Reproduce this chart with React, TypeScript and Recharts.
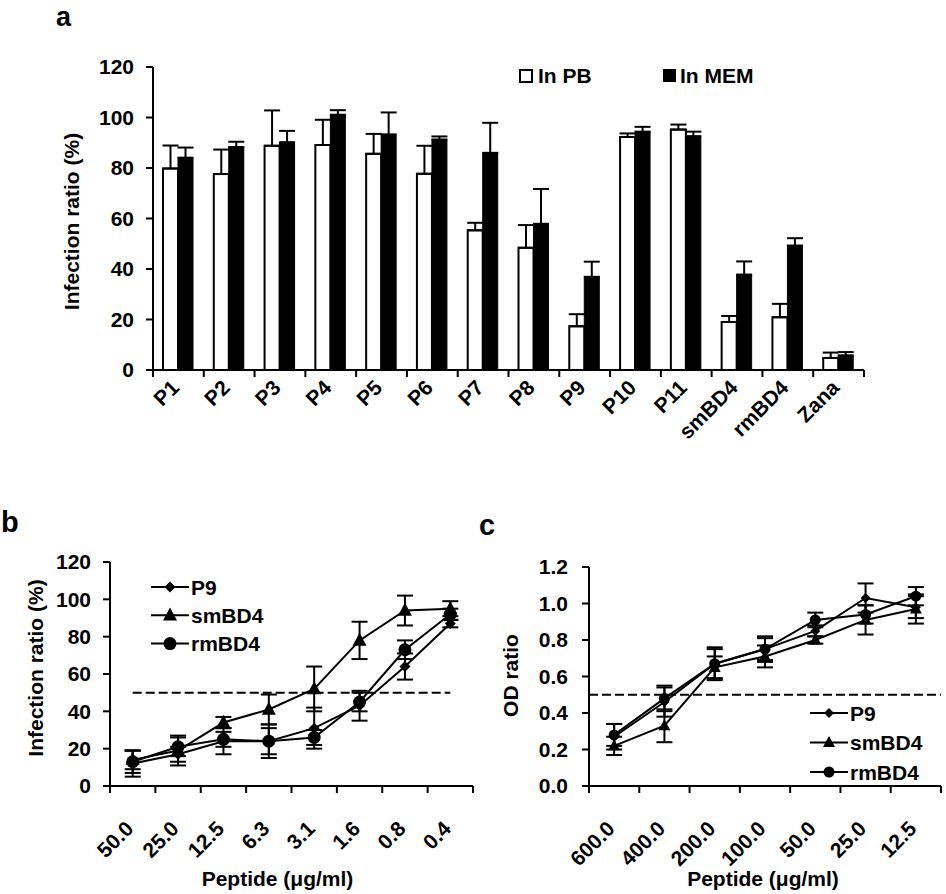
import React from "react";
import {
  Bar,
  BarChart,
  ErrorBar,
  Label,
  Legend,
  Line,
  LineChart,
  ReferenceLine,
  XAxis,
  YAxis,
} from "recharts";

const FONT = '"Liberation Sans", Arial, sans-serif';

// panel a: infection ratio per peptide, in PB vs in MEM
const peptides = ["P1", "P2", "P3", "P4", "P5", "P6", "P7", "P8", "P9", "P10", "P11", "smBD4", "rmBD4", "Zana"];
const pbMeans = [79.8, 77.6, 88.8, 89.1, 85.6, 77.7, 55.3, 48.4, 17.3, 92.3, 95.2, 19.0, 20.9, 4.8];
const pbErrors = [9.1, 9.7, 14.0, 10.0, 7.9, 11.1, 3.0, 9.0, 4.8, 1.4, 2.0, 2.4, 5.3, 2.1];
const memMeans = [84.1, 88.3, 90.2, 101.1, 93.3, 91.3, 86.0, 57.9, 36.9, 94.4, 92.6, 37.8, 49.3, 5.8];
const memErrors = [4.0, 2.1, 4.5, 1.8, 8.7, 1.2, 11.9, 13.8, 6.0, 1.9, 1.8, 5.2, 2.9, 1.3];
const ticksA = [0, 20, 40, 60, 80, 100, 120];

// panel b: infection ratio vs peptide dose
const dosesB = ["50.0", "25.0", "12.5", "6.3", "3.1", "1.6", "0.8", "0.4"];
const p9B = [12, 17, 24, 24, 31, 43, 64, 87];
const p9BErr = [7, 4, 7, 9, 11, 8, 7, 2];
const smB = [14, 19, 34, 41, 52, 78, 94, 95];
const smBErr = [5, 8, 3, 8, 12, 10, 8, 4];
const rmB = [13, 21, 25, 24, 26, 45, 73, 92];
const rmBErr = [6, 5, 4, 7, 4, 5, 5, 3];
const ticksB = [0, 20, 40, 60, 80, 100, 120];

// panel c: OD ratio vs peptide dose
const dosesC = ["600.0", "400.0", "200.0", "100.0", "50.0", "25.0", "12.5"];
const p9C = [0.27, 0.46, 0.67, 0.75, 0.85, 1.03, 0.98];
const p9CErr = [0.07, 0.08, 0.08, 0.06, 0.03, 0.08, 0.06];
const smC = [0.22, 0.33, 0.65, 0.71, 0.8, 0.91, 0.97];
const smCErr = [0.05, 0.09, 0.06, 0.06, 0.02, 0.08, 0.08];
const rmC = [0.28, 0.48, 0.67, 0.75, 0.91, 0.94, 1.04];
const rmCErr = [0.06, 0.07, 0.09, 0.07, 0.04, 0.05, 0.05];
const ticksC = [0, 0.2, 0.4, 0.6, 0.8, 1.0, 1.2];

const barData = peptides.map((name, i) => ({
  name,
  pb: pbMeans[i],
  pbErr: [0, pbErrors[i]],
  mem: memMeans[i],
  memErr: [0, memErrors[i]],
}));

const doseData = (doses: string[], p9: number[], p9e: number[], sm: number[], sme: number[], rm: number[], rme: number[]) =>
  doses.map((dose, i) => ({
    dose,
    p9: p9[i],
    p9Err: p9e[i],
    sm: sm[i],
    smErr: sme[i],
    rm: rm[i],
    rmErr: rme[i],
  }));

const dataB = doseData(dosesB, p9B, p9BErr, smB, smBErr, rmB, rmBErr);
const dataC = doseData(dosesC, p9C, p9CErr, smC, smCErr, rmC, rmCErr);

const axisStroke = { stroke: "#000", strokeWidth: 2 };
const tickFont = { fontFamily: FONT, fontWeight: 700, fontSize: 21, fill: "#000" };

type Shape = "diamond" | "triangle" | "circle";

function Marker({ cx, cy, shape, size }: { cx: number; cy: number; shape: Shape; size: number }) {
  if (cx == null || cy == null) return null;
  const s = size;
  if (shape === "diamond") {
    return <polygon points={`${cx},${cy - s} ${cx + s},${cy} ${cx},${cy + s} ${cx - s},${cy}`} fill="#000" />;
  }
  if (shape === "triangle") {
    return <polygon points={`${cx},${cy - s * 1.1} ${cx + s},${cy + s * 0.75} ${cx - s},${cy + s * 0.75}`} fill="#000" />;
  }
  return <circle cx={cx} cy={cy} r={s} fill="#000" />;
}

const dotRenderer = (shape: Shape, size: number) => (p: any) =>
  <Marker key={`${shape}-${p.index}`} cx={p.cx} cy={p.cy} shape={shape} size={size} />;

// category tick: rotated label at the band centre, tick marks on the band edges (excel style)
const CategoryTick = (dx: number, dy: number, count: number) => (props: any) => {
  const { x, y, payload, index, width } = props;
  const n = props.visibleTicksCount || count;
  const band = width / n;
  const tx = x + dx;
  const ty = y + dy;
  return (
    <g>
      <line x1={x - band / 2} x2={x - band / 2} y1={y} y2={y + 7} stroke="#000" strokeWidth={2} />
      {index === n - 1 && <line x1={x + band / 2} x2={x + band / 2} y1={y} y2={y + 7} stroke="#000" strokeWidth={2} />}
      <text x={tx} y={ty} transform={`rotate(-45 ${tx} ${ty})`} textAnchor="end" style={tickFont}>
        {payload.value}
      </text>
    </g>
  );
};

const axisTitle = (text: string, dx: number, dy: number, angle = 0, size = 21) => (props: any) => {
  const vb = props.viewBox || { x: 0, y: 0, width: 0, height: 0 };
  const cx = vb.x + vb.width / 2 + dx;
  const cy = vb.y + vb.height / 2 + dy;
  return (
    <text
      x={cx}
      y={cy}
      transform={angle ? `rotate(${angle} ${cx} ${cy})` : undefined}
      textAnchor="middle"
      dominantBaseline="central"
      style={{ fontFamily: FONT, fontWeight: 700, fontSize: size, fill: "#000" }}
    >
      {text}
    </text>
  );
};

function BarLegend() {
  return (
    <svg width={260} height={30} style={{ display: "block" }}>
      <rect x={6} y={10} width={12} height={12} fill="#fff" stroke="#000" strokeWidth={2} />
      <text x={24} y={23} style={tickFont}>In PB</text>
      <rect x={149} y={9} width={13} height={13} fill="#000" />
      <text x={166} y={23} style={tickFont}>In MEM</text>
    </svg>
  );
}

const seriesLegend = [
  { label: "P9", shape: "diamond" as Shape },
  { label: "smBD4", shape: "triangle" as Shape },
  { label: "rmBD4", shape: "circle" as Shape },
];

function LineLegend({ rowGap, sizes }: { rowGap: number; sizes: number[] }) {
  return (
    <svg width={140} height={rowGap * 3 + 6} style={{ display: "block" }}>
      {seriesLegend.map((s, i) => {
        const cy = 15 + i * rowGap;
        return (
          <g key={s.label}>
            <line x1={6} x2={44} y1={cy} y2={cy} stroke="#000" strokeWidth={2} />
            <Marker cx={25} cy={cy} shape={s.shape} size={sizes[i]} />
            <text x={46} y={cy + 7.5} style={tickFont}>{s.label}</text>
          </g>
        );
      })}
    </svg>
  );
}

function PanelA() {
  return (
    <BarChart
      width={946}
      height={460}
      data={barData}
      margin={{ top: 67, right: 82, bottom: 30, left: 93 }}
      barGap={0}
    >
      <XAxis
        dataKey="name"
        interval={0}
        height={60}
        axisLine={axisStroke}
        tickLine={false}
        tickSize={0}
        tickMargin={0}
        tick={CategoryTick(2, 19, peptides.length)}
      />
      <YAxis
        domain={[0, 120]}
        ticks={ticksA}
        width={60}
        axisLine={axisStroke}
        tickLine={axisStroke}
        tickSize={7}
        tickMargin={12}
        tick={tickFont}
      >
        <Label content={axisTitle("Infection ratio (%)", -52, 3, -90)} />
      </YAxis>
      <Legend
        layout="horizontal"
        verticalAlign="middle"
        align="center"
        wrapperStyle={{ position: "absolute", top: 60, left: 514, width: 260 }}
        content={() => <BarLegend />}
      />
      <Bar dataKey="pb" barSize={15} fill="#fff" stroke="#000" strokeWidth={2} isAnimationActive={false}>
        <ErrorBar dataKey="pbErr" width={8} stroke="#000" strokeWidth={2} />
      </Bar>
      <Bar dataKey="mem" barSize={15} fill="#000" stroke="#000" strokeWidth={1} isAnimationActive={false}>
        <ErrorBar dataKey="memErr" width={8} stroke="#000" strokeWidth={2} />
      </Bar>
    </BarChart>
  );
}

function DoseLines({ sizes }: { sizes: number[] }) {
  return (
    <>
      <Line dataKey="p9" stroke="#000" strokeWidth={2} dot={dotRenderer("diamond", sizes[0])} activeDot={false} isAnimationActive={false}>
        <ErrorBar dataKey="p9Err" width={8} stroke="#000" strokeWidth={2} />
      </Line>
      <Line dataKey="sm" stroke="#000" strokeWidth={2} dot={dotRenderer("triangle", sizes[1])} activeDot={false} isAnimationActive={false}>
        <ErrorBar dataKey="smErr" width={8} stroke="#000" strokeWidth={2} />
      </Line>
      <Line dataKey="rm" stroke="#000" strokeWidth={2} dot={dotRenderer("circle", sizes[2])} activeDot={false} isAnimationActive={false}>
        <ErrorBar dataKey="rmErr" width={8} stroke="#000" strokeWidth={2} />
      </Line>
    </>
  );
}

const sizesB = [5.5, 7, 6.5];
const sizesC = [5, 6, 5.5];

function PanelB() {
  return (
    <LineChart width={480} height={414} data={dataB} margin={{ top: 82, right: 7, bottom: 0, left: 40 }}>
      <XAxis
        dataKey="dose"
        scale="band"
        interval={0}
        height={108}
        axisLine={axisStroke}
        tickLine={false}
        tickSize={0}
        tickMargin={0}
        tick={CategoryTick(2, 44, dosesB.length)}
      >
        <Label content={axisTitle("Peptide (μg/ml)", -14, 38)} />
      </XAxis>
      <YAxis
        domain={[0, 120]}
        ticks={ticksB}
        width={70}
        axisLine={axisStroke}
        tickLine={axisStroke}
        tickSize={7}
        tickMargin={12}
        tick={tickFont}
      >
        <Label content={axisTitle("Infection ratio (%)", -40, -6, -90)} />
      </YAxis>
      <ReferenceLine
        segment={[{ x: dosesB[0], y: 50 }, { x: dosesB[dosesB.length - 1], y: 50 }]}
        stroke="#000"
        strokeWidth={2}
        strokeDasharray="9 4"
      />
      <Legend
        layout="horizontal"
        verticalAlign="middle"
        align="center"
        wrapperStyle={{ position: "absolute", top: 92, left: 145, width: 140 }}
        content={() => <LineLegend rowGap={28.3} sizes={sizesB} />}
      />
      {DoseLines({ sizes: sizesB })}
    </LineChart>
  );
}

function PanelC() {
  return (
    <LineChart width={473} height={414} data={dataC} margin={{ top: 87, right: 5, bottom: 0, left: 46 }}>
      <XAxis
        dataKey="dose"
        scale="band"
        interval={0}
        height={108}
        axisLine={axisStroke}
        tickLine={false}
        tickSize={0}
        tickMargin={0}
        tick={CategoryTick(2, 44, dosesC.length)}
      >
        <Label content={axisTitle("Peptide (μg/ml)", -2, 38)} />
      </XAxis>
      <YAxis
        domain={[0, 1.2]}
        ticks={ticksC}
        width={70}
        axisLine={axisStroke}
        tickLine={axisStroke}
        tickSize={7}
        tickMargin={14}
        tick={tickFont}
        tickFormatter={(v: number) => v.toFixed(1)}
      >
        <Label content={axisTitle("OD ratio", -44, -1, -90)} />
      </YAxis>
      <ReferenceLine y={0.5} stroke="#000" strokeWidth={2} strokeDasharray="9 4" />
      <Legend
        layout="horizontal"
        verticalAlign="middle"
        align="center"
        wrapperStyle={{ position: "absolute", top: 218, left: 331, width: 140 }}
        content={() => <LineLegend rowGap={29.5} sizes={sizesC} />}
      />
      {DoseLines({ sizes: sizesC })}
    </LineChart>
  );
}

export default function App() {
  const letter = { fontFamily: FONT, fontWeight: 700, fontSize: 27, fill: "#000" };
  return (
    <div style={{ position: "absolute", left: 0, top: 0, width: 946, height: 894, background: "#fff" }}>
      <div style={{ position: "absolute", left: 0, top: 0 }}>
        <PanelA />
      </div>
      <div style={{ position: "absolute", left: 0, top: 480 }}>
        <PanelB />
      </div>
      <div style={{ position: "absolute", left: 473, top: 480 }}>
        <PanelC />
      </div>
      <svg width={946} height={894} style={{ position: "absolute", left: 0, top: 0, pointerEvents: "none" }}>
        <text x={56} y={26} style={letter}>a</text>
        <text x={1} y={532} style={{ ...letter, fontSize: 29 }}>b</text>
        <text x={479} y={535} style={{ ...letter, fontSize: 29 }}>c</text>
      </svg>
    </div>
  );
}
